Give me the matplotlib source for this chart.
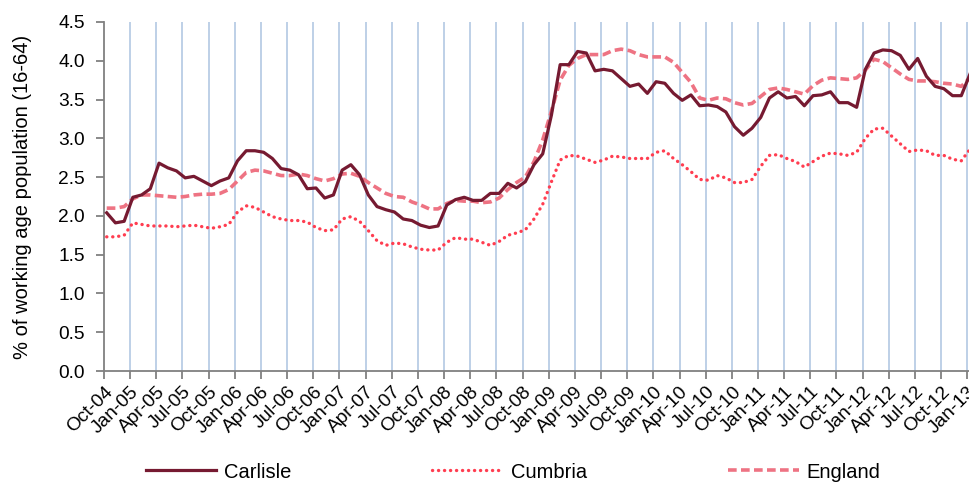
import numpy as np
import matplotlib
matplotlib.use("Agg")
import matplotlib.pyplot as plt

plt.rcParams['font.family'] = ['Liberation Sans', 'DejaVu Sans']

# Monthly claimant rate, Oct-04 .. Jan-13 (100 months)
carlisle = [
    2.04, 1.91, 1.93, 2.24, 2.27, 2.35, 2.68, 2.62, 2.58, 2.49,
    2.51, 2.45, 2.39, 2.45, 2.49, 2.71, 2.84, 2.84, 2.82, 2.74,
    2.61, 2.59, 2.53, 2.35, 2.36, 2.23, 2.27, 2.59, 2.66, 2.53,
    2.27, 2.12, 2.08, 2.05, 1.96, 1.94, 1.88, 1.85, 1.87, 2.14,
    2.21, 2.24, 2.20, 2.20, 2.29, 2.29, 2.42, 2.36, 2.44, 2.66,
    2.80, 3.30, 3.95, 3.95, 4.12, 4.10, 3.87, 3.89, 3.87, 3.77,
    3.67, 3.70, 3.58, 3.73, 3.71, 3.58, 3.49, 3.56, 3.42, 3.43,
    3.41, 3.34, 3.15, 3.04, 3.13, 3.27, 3.52, 3.60, 3.52, 3.54,
    3.42, 3.55, 3.56, 3.60, 3.46, 3.46, 3.40, 3.89, 4.10, 4.14,
    4.13, 4.07, 3.89, 4.03, 3.80, 3.67, 3.64, 3.55, 3.55, 3.83,
]
cumbria = [
    1.73, 1.73, 1.75, 1.91, 1.89, 1.87, 1.87, 1.87, 1.86, 1.87,
    1.88, 1.86, 1.84, 1.86, 1.89, 2.05, 2.13, 2.11, 2.05, 1.99,
    1.96, 1.94, 1.94, 1.92, 1.85, 1.81, 1.82, 1.96, 1.99, 1.93,
    1.81, 1.68, 1.62, 1.65, 1.64, 1.60, 1.57, 1.56, 1.56, 1.66,
    1.72, 1.70, 1.70, 1.66, 1.62, 1.67, 1.75, 1.78, 1.82, 1.96,
    2.15, 2.44, 2.72, 2.78, 2.77, 2.73, 2.69, 2.72, 2.77, 2.76,
    2.74, 2.74, 2.74, 2.82, 2.84, 2.74, 2.66, 2.57, 2.47, 2.46,
    2.52, 2.49, 2.43, 2.43, 2.47, 2.64, 2.78, 2.79, 2.74, 2.70,
    2.63, 2.70, 2.77, 2.81, 2.80, 2.78, 2.82, 3.00, 3.12, 3.13,
    3.03, 2.93, 2.83, 2.85, 2.84, 2.78, 2.78, 2.73, 2.71, 2.86,
]
england = [
    2.10, 2.10, 2.12, 2.22, 2.27, 2.27, 2.26, 2.25, 2.24, 2.25,
    2.27, 2.28, 2.28, 2.29, 2.34, 2.45, 2.56, 2.59, 2.58, 2.55,
    2.52, 2.52, 2.54, 2.52, 2.48, 2.45, 2.48, 2.54, 2.55, 2.51,
    2.43, 2.36, 2.29, 2.25, 2.24, 2.18, 2.14, 2.09, 2.09, 2.16,
    2.20, 2.19, 2.19, 2.17, 2.18, 2.23, 2.34, 2.43, 2.50, 2.70,
    2.98, 3.35, 3.75, 3.94, 4.03, 4.08, 4.08, 4.08, 4.13, 4.15,
    4.13, 4.08, 4.05, 4.05, 4.05, 3.98, 3.85, 3.72, 3.52, 3.49,
    3.52, 3.51, 3.46, 3.43, 3.45, 3.54, 3.63, 3.65, 3.63, 3.60,
    3.57, 3.68, 3.75, 3.78, 3.77, 3.76, 3.78, 3.88, 4.02, 3.99,
    3.91, 3.83, 3.76, 3.74, 3.74, 3.73, 3.71, 3.70, 3.67, 3.78,
]
tick_labels = [
    "Oct-04", "Jan-05", "Apr-05", "Jul-05", "Oct-05", "Jan-06", "Apr-06",
    "Jul-06", "Oct-06", "Jan-07", "Apr-07", "Jul-07", "Oct-07", "Jan-08",
    "Apr-08", "Jul-08", "Oct-08", "Jan-09", "Apr-09", "Jul-09", "Oct-09",
    "Jan-10", "Apr-10", "Jul-10", "Oct-10", "Jan-11", "Apr-11", "Jul-11",
    "Oct-11", "Jan-12", "Apr-12", "Jul-12", "Oct-12", "Jan-13",
]

months = np.arange(len(carlisle)) + 0.31   # readings sit just after each month start
tick_pos = np.arange(len(tick_labels)) * 3

fig = plt.figure(figsize=(9.70, 4.83), dpi=100)
ax = fig.add_axes([104 / 970, 1 - 371 / 483, 866 / 970, 349 / 483])

grid_c = "#B9CDE5"
for t in tick_pos[1:]:
    ax.axvline(t, color=grid_c, lw=1.3, zorder=0)

ax.plot(months, england, color="#EE7383", lw=2.6, linestyle=(0, (2.4, 1.2)),
        label="England", zorder=2)
ax.plot(months, cumbria, color="#FF3D50", lw=2.4, linestyle=(0, (0.05, 1.75)),
        dash_capstyle="round", label="Cumbria", zorder=3)
ax.plot(months, carlisle, color="#761A31", lw=2.3, label="Carlisle", zorder=4)

ax.set_xlim(0, len(carlisle) - 1 + 0.31)
ax.set_ylim(0, 4.5)
yt = np.arange(0, 4.51, 0.5)
ax.set_yticks(yt)
ax.set_yticklabels([f"{v:.1f}" for v in yt], fontsize=13.8)
ax.set_xticks(tick_pos)
ax.set_xticklabels(tick_labels, rotation=45, ha="right", rotation_mode="anchor",
                   fontsize=13.8)

for s in ("top", "right"):
    ax.spines[s].set_visible(False)
for s in ("left", "bottom"):
    ax.spines[s].set_color("#808080")
    ax.spines[s].set_linewidth(1.3)
ax.tick_params(axis="both", colors="#808080", labelcolor="black", width=1.3,
               length=6, direction="out")
ax.tick_params(axis="x", pad=3)
ax.tick_params(axis="y", pad=8)

ax.set_ylabel("% of working age population (16-64)", fontsize=14.5)
ax.yaxis.set_label_coords(-0.083, 0.5)

handles, labels = ax.get_legend_handles_labels()
order = [2, 1, 0]
fig.legend([handles[i] for i in order], [labels[i] for i in order],
           loc="center", bbox_to_anchor=(513 / 970, 1 - 472 / 483), ncol=3,
           frameon=False, fontsize=14.5, handlelength=3.5, handletextpad=0.4,
           columnspacing=7.0, borderaxespad=0, borderpad=0)

fig.savefig("out.png", dpi=100)
